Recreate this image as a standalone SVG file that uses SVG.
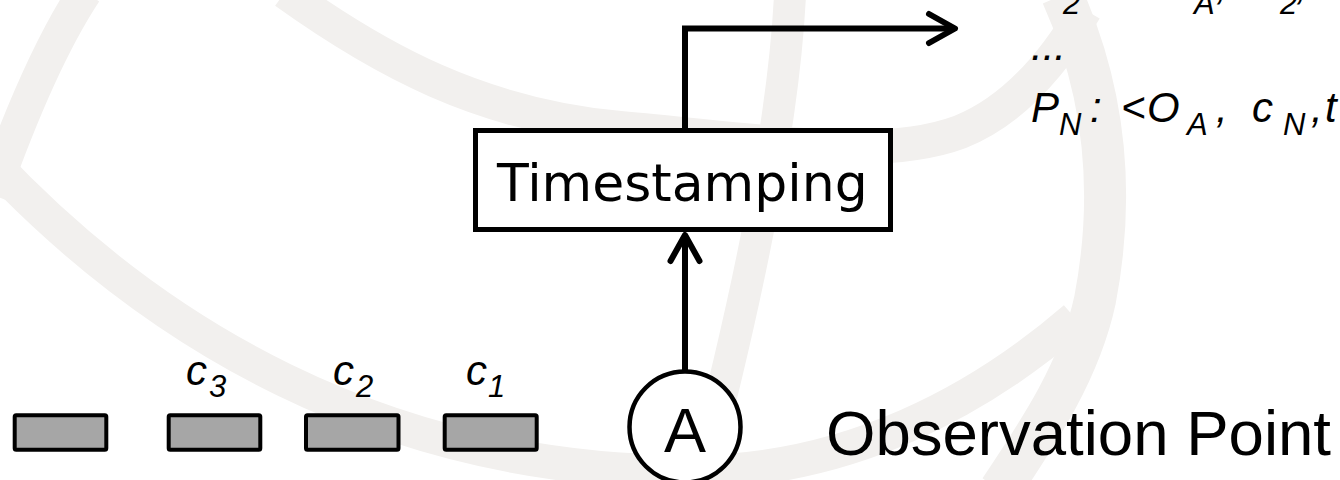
<svg xmlns="http://www.w3.org/2000/svg" width="1340" height="480" viewBox="0 0 1340 480">
  <style>
    .band { fill: none; stroke: #f2f0ee; stroke-width: 34; }
    .wire { fill: none; stroke: #000; stroke-width: 6; }
    .packet { fill: #a6a6a6; stroke: #000; stroke-width: 4; }
    .label-i { font-family: "Liberation Sans", Arial, sans-serif; font-style: italic; font-size: 42px; fill: #000; }
    .sub { font-size: 31px; }
    .big { font-family: "Liberation Sans", Arial, sans-serif; font-size: 63px; fill: #000; }
  </style>
  <defs>
    <marker id="chevron" markerUnits="userSpaceOnUse" markerWidth="40" markerHeight="40" refX="0" refY="0" orient="auto" overflow="visible">
      <path d="M-26,-14.5 L0,0 L-26,14.5" fill="none" stroke="#000" stroke-width="6" stroke-linecap="round" stroke-linejoin="round"/>
    </marker>
  </defs>

  <rect width="1340" height="480" fill="#fff"/>

  <!-- faint logo arcs in the background -->
  <g id="backdrop">
    <path class="band" d="M85,-8 Q40,60 -8,195"/>
    <path class="band" d="M-10,160 C150,330 380,472 690,472 C850,472 980,400 1075,318"/>
    <path class="band" d="M285,-8 C380,60 480,115 620,128 C760,140 880,162 960,132 C1010,112 1050,70 1085,10"/>
    <path class="band" style="stroke-width:42" d="M1062,-5 C1100,80 1118,180 1095,300 C1080,370 1040,430 1000,490"/>
    <path class="band" style="stroke-width:32" d="M790,-5 C785,100 760,250 700,480"/>
  </g>

  <!-- connectors -->
  <g id="connectors">
    <path class="wire" d="M685,370 V235" marker-end="url(#chevron)"/>
    <path class="wire" stroke-linejoin="miter" d="M685,128 V28.5 H955" marker-end="url(#chevron)"/>
  </g>

  <!-- timestamping unit -->
  <g id="timestamping">
    <rect x="475.5" y="130.5" width="415" height="99" fill="#fff" stroke="#000" stroke-width="5"/>
    <text x="497" y="201" font-family="DejaVu Sans, sans-serif" font-size="52" fill="#000">Timestamping</text>
  </g>

  <!-- observation point A -->
  <g id="observer-a">
    <circle cx="685" cy="427" r="55.5" fill="#fff" stroke="#000" stroke-width="4.5"/>
    <text class="big" x="685" y="452" text-anchor="middle">A</text>
  </g>
  <g id="observation-label">
    <text class="big" x="826" y="455" textLength="505" lengthAdjust="spacingAndGlyphs">Observation Point</text>
  </g>

  <!-- packets on the link -->
  <g id="packet-4">
    <rect class="packet" x="14.7" y="415.3" width="91.6" height="34.4" rx="1.5"/>
  </g>
  <g id="packet-3">
    <rect class="packet" x="168.7" y="415.3" width="91.6" height="34.4" rx="1.5"/>
    <text class="label-i" x="186" y="385">c<tspan class="sub" x="209" y="397">3</tspan></text>
  </g>
  <g id="packet-2">
    <rect class="packet" x="306" y="415.3" width="92.5" height="34.4" rx="1.5"/>
    <text class="label-i" x="333" y="385">c<tspan class="sub" x="356" y="397">2</tspan></text>
  </g>
  <g id="packet-1">
    <rect class="packet" x="444.7" y="415.3" width="92" height="34.4" rx="1.5"/>
    <text class="label-i" x="466" y="385">c<tspan class="sub" x="488" y="397">1</tspan></text>
  </g>

  <!-- exported records -->
  <g id="records">
    <text class="label-i"><tspan x="1031" y="-1">P</tspan><tspan class="sub" x="1063" y="14">2</tspan><tspan x="1090" y="-1">:</tspan><tspan x="1121" y="-1">&lt;</tspan><tspan x="1147" y="-1">O</tspan><tspan class="sub" x="1194" y="14">A</tspan><tspan x="1216" y="-1">,</tspan><tspan x="1252" y="-1">c</tspan><tspan class="sub" x="1280" y="14">2</tspan><tspan x="1296" y="-1">,</tspan><tspan x="1325" y="-1">t</tspan></text>
    <text class="label-i" x="1031" y="60">...</text>
    <text class="label-i"><tspan x="1031" y="122">P</tspan><tspan class="sub" x="1059" y="135">N</tspan><tspan x="1090" y="122">:</tspan><tspan x="1121" y="122">&lt;</tspan><tspan x="1147" y="122">O</tspan><tspan class="sub" x="1187" y="135">A</tspan><tspan x="1216" y="122">,</tspan><tspan x="1252" y="122">c</tspan><tspan class="sub" x="1283" y="135">N</tspan><tspan x="1311" y="122">,</tspan><tspan x="1325" y="122">t</tspan></text>
  </g>
</svg>
